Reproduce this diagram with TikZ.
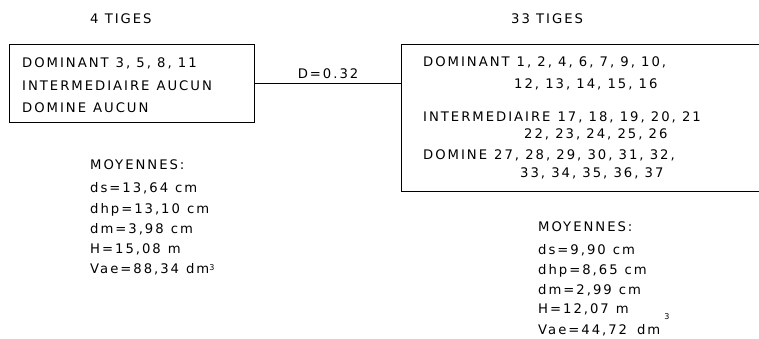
\documentclass[tikz,border=0pt]{standalone}
\usepackage{fontspec}
\newfontfamily\plotfont{DejaVu Sans}[LetterSpace=15]
\usetikzlibrary{positioning}
\tikzset{
  txt/.style={anchor=base west, inner sep=0pt, font=\plotfont\fontsize{13.2}{15}\selectfont},
  boite/.style={draw, line width=1.1pt, inner sep=0pt, anchor=north west},
  trait/.style={line width=1.1pt},
}
\newcommand{\expo}[2]{\raisebox{#1}{\fontsize{8}{8}\selectfont #2}}
\newcommand{\esp}{\hspace{7pt}}

\begin{document}
\begin{tikzpicture}[x=1pt,y=-1pt]
\useasboundingbox (0,0) rectangle (759,339);

%% ─── Titles ─────────────────────────────────────────────────────────────────
\node[txt] (titreg) at (90,24)  {4 TIGES};
\node[txt] (titred) at (511,24) {33 TIGES};

%% ─── Boxes and link ─────────────────────────────────────────────────────────
\node[boite, minimum width=245pt, minimum height=78pt]  (gauche) at (9,44)  {};
\node[boite, minimum width=362pt, minimum height=147pt] (droite) at (401,44) {};
\draw[trait] (gauche.east) -- (gauche.east -| droite.west)
  node[midway, above=4pt, txt, anchor=south] (dist) {D=0.32};

%% ─── Left box contents ──────────────────────────────────────────────────────
\node[txt] (g1) at (22,67.5)  {DOMINANT\esp 3, 5, 8, 11};
\node[txt] (g2) at (22,90.5)  {INTERMEDIAIRE\esp AUCUN};
\node[txt] (g3) at (22,112.5) {DOMINE\esp AUCUN};

%% ─── Right box contents ─────────────────────────────────────────────────────
\node[txt] (d1) at (423,66.5)  {DOMINANT\esp 1, 2, 4, 6, 7, 9, 10,};
\node[txt] (d2) at (514,88.5)  {12, 13, 14, 15, 16};
\node[txt] (d3) at (423,121.5) {INTERMEDIAIRE\esp 17, 18, 19, 20, 21};
\node[txt] (d4) at (524,138.5) {22, 23, 24, 25, 26};
\node[txt] (d5) at (423,159.5) {DOMINE\esp 27, 28, 29, 30, 31, 32,};
\node[txt] (d6) at (520,177.5) {33, 34, 35, 36, 37};

%% ─── Means ──────────────────────────────────────────────────────────────────
\foreach \i/\yb/\t in {0/169.5/MOYENNES:, 1/192.5/{ds=13,64\esp cm}, 2/213.5/{dhp=13,10\esp cm},
    3/233.5/{dm=3,98\esp cm}, 4/253.5/{H=15,08\esp m}, 5/273.5/{Vae=88,34\esp dm\expo{3.5pt}{3}}}
  \node[txt] (mg\i) at (90,\yb) {\t};
\foreach \i/\yb/\t in {0/231.5/MOYENNES:, 1/254.5/{ds=9,90\esp cm}, 2/274.5/{dhp=8,65\esp cm},
    3/294.5/{dm=2,99\esp cm}, 4/313.5/{H=12,07\esp m}, 5/334.5/{Vae=44,72\esp\hspace{3pt}dm\hspace{4pt}\expo{15pt}{3}}}
  \node[txt] (md\i) at (538,\yb) {\t};

\end{tikzpicture}
\end{document}
